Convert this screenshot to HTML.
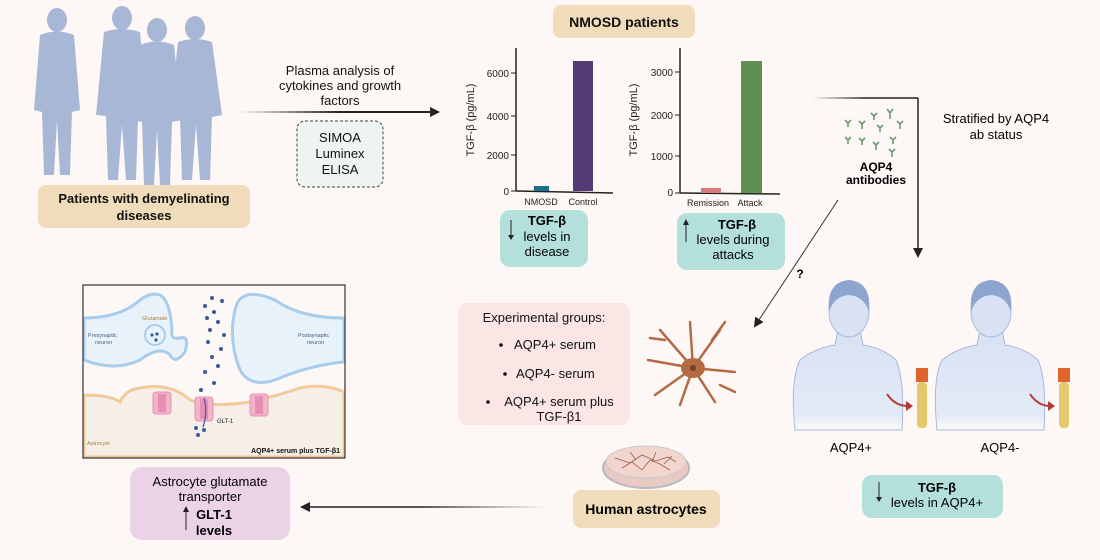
<!DOCTYPE html>
<html><head><meta charset="utf-8"><style>
body{margin:0;background:#fdf8f6;}
svg{display:block;font-family:"Liberation Sans",Arial,sans-serif;}
</style></head><body>
<svg width="1100" height="560" viewBox="0 0 1100 560" xmlns="http://www.w3.org/2000/svg">
<defs>
<marker id="ah" markerWidth="10" markerHeight="10" refX="8" refY="5" orient="auto" markerUnits="userSpaceOnUse"><path d="M0,0 L10,5 L0,10 z" fill="#222"/></marker>
<linearGradient id="g1" gradientUnits="userSpaceOnUse" x1="240" y1="0" x2="440" y2="0"><stop offset="0" stop-color="#222" stop-opacity="0"/><stop offset="0.5" stop-color="#222"/></linearGradient>
<linearGradient id="g2" gradientUnits="userSpaceOnUse" x1="300" y1="0" x2="545" y2="0"><stop offset="0.5" stop-color="#222"/><stop offset="1" stop-color="#222" stop-opacity="0"/></linearGradient>
<linearGradient id="g3" gradientUnits="userSpaceOnUse" x1="812" y1="0" x2="918" y2="0"><stop offset="0" stop-color="#222" stop-opacity="0"/><stop offset="0.5" stop-color="#222"/></linearGradient>
<linearGradient id="body" x1="0" y1="0" x2="0" y2="1"><stop offset="0" stop-color="#d8e2f4"/><stop offset="0.85" stop-color="#e3eaf7"/><stop offset="1" stop-color="#fdf8f6"/></linearGradient>
</defs>
<rect width="1100" height="560" fill="#fdf8f6"/>

<!-- patient silhouettes -->
<g fill="#a9b7d6">
 <ellipse cx="57" cy="20" rx="10" ry="12"/><path d="M40,35 Q57,28 74,35 L80,110 L72,112 L70,175 L60,175 L57,120 L54,175 L44,175 L42,112 L34,110 Z"/>
 <ellipse cx="122" cy="18" rx="10" ry="12"/><path d="M104,32 Q122,26 140,32 L148,115 L138,116 L136,180 L126,180 L122,125 L118,180 L108,180 L106,116 L96,115 Z"/>
 <ellipse cx="157" cy="30" rx="10" ry="12"/><path d="M140,45 Q157,38 174,45 L182,120 L172,122 L170,185 L160,185 L157,130 L154,185 L144,185 L142,122 L132,120 Z"/>
 <ellipse cx="195" cy="28" rx="10" ry="12"/><path d="M178,42 Q195,36 212,42 L222,115 L212,117 L210,180 L200,180 L196,125 L192,180 L182,180 L180,117 L170,115 Z"/>
</g>
<rect x="38" y="185" width="212" height="43" rx="8" fill="#f0dcbb"/>
<text x="144" y="203" font-size="13" font-weight="bold" text-anchor="middle" fill="#111">Patients with demyelinating</text>
<text x="144" y="220" font-size="13" font-weight="bold" text-anchor="middle" fill="#111">diseases</text>

<!-- plasma arrow -->
<line x1="240" y1="112" x2="438" y2="112" stroke="url(#g1)" stroke-width="2" marker-end="url(#ah)"/>
<g font-size="13" text-anchor="middle" fill="#111"><text x="340" y="75">Plasma analysis of</text><text x="340" y="90">cytokines and growth</text><text x="340" y="105">factors</text></g>
<rect x="297" y="121" width="86" height="66" rx="8" fill="#eef5f0" stroke="#444" stroke-dasharray="3,2"/>
<g font-size="13" text-anchor="middle" fill="#111"><text x="340" y="142">SIMOA</text><text x="340" y="158">Luminex</text><text x="340" y="174">ELISA</text></g>

<!-- NMOSD -->
<rect x="553" y="5" width="142" height="33" rx="8" fill="#f0dcbb"/>
<text x="624" y="27" font-size="14" font-weight="bold" text-anchor="middle" fill="#111">NMOSD patients</text>

<!-- chart1 -->
<g font-size="10" fill="#222">
 <line x1="516" y1="48" x2="516" y2="191" stroke="#222" stroke-width="1.5"/>
 <line x1="516" y1="191" x2="613" y2="193" stroke="#222" stroke-width="1.5"/>
 <line x1="511" y1="191" x2="516" y2="191" stroke="#222"/><line x1="511" y1="155" x2="516" y2="155" stroke="#222"/><line x1="511" y1="116" x2="516" y2="116" stroke="#222"/><line x1="511" y1="73" x2="516" y2="73" stroke="#222"/>
 <g text-anchor="end"><text x="509" y="195">0</text><text x="509" y="159">2000</text><text x="509" y="120">4000</text><text x="509" y="77">6000</text></g>
 <text transform="translate(474,120) rotate(-90)" font-size="11" text-anchor="middle">TGF-β (pg/mL)</text>
 <rect x="534" y="186" width="15" height="5" fill="#1a6f8a"/>
 <rect x="573" y="61" width="20" height="130" fill="#553a78"/>
 <text x="541" y="205" text-anchor="middle" font-size="9">NMOSD</text><text x="583" y="205" text-anchor="middle" font-size="9">Control</text>
</g>
<!-- chart2 -->
<g font-size="10" fill="#222">
 <line x1="680" y1="48" x2="680" y2="193" stroke="#222" stroke-width="1.5"/>
 <line x1="680" y1="193" x2="780" y2="194" stroke="#222" stroke-width="1.5"/>
 <line x1="675" y1="193" x2="680" y2="193" stroke="#222"/><line x1="675" y1="156" x2="680" y2="156" stroke="#222"/><line x1="675" y1="115" x2="680" y2="115" stroke="#222"/><line x1="675" y1="72" x2="680" y2="72" stroke="#222"/>
 <g text-anchor="end"><text x="673" y="196">0</text><text x="673" y="160">1000</text><text x="673" y="119">2000</text><text x="673" y="76">3000</text></g>
 <text transform="translate(637,120) rotate(-90)" font-size="11" text-anchor="middle">TGF-β (pg/mL)</text>
 <rect x="701" y="188" width="20" height="5" fill="#d97b7b"/>
 <rect x="741" y="61" width="21" height="132" fill="#5f8f55"/>
 <text x="708" y="206" text-anchor="middle" font-size="9">Remission</text><text x="750" y="206" text-anchor="middle" font-size="9">Attack</text>
</g>

<!-- teal boxes -->
<rect x="500" y="210" width="88" height="57" rx="10" fill="#b4e0dc"/>
<line x1="511" y1="220" x2="511" y2="236" stroke="#222"/><path d="M508,235 L514,235 L511,240z" fill="#222"/>
<text x="547" y="225" font-size="13" font-weight="bold" text-anchor="middle">TGF-β</text>
<text x="547" y="241" font-size="13" text-anchor="middle">levels in</text><text x="547" y="256" font-size="13" text-anchor="middle">disease</text>
<rect x="677" y="213" width="108" height="57" rx="10" fill="#b4e0dc"/>
<line x1="686" y1="223" x2="686" y2="242" stroke="#222"/><path d="M683,225 L689,225 L686,219z" fill="#222"/>
<text x="737" y="229" font-size="13" font-weight="bold" text-anchor="middle">TGF-β</text>
<text x="733" y="244" font-size="13" text-anchor="middle">levels during</text><text x="733" y="259" font-size="13" text-anchor="middle">attacks</text>

<!-- stratified line -->
<line x1="812" y1="98" x2="918" y2="98" stroke="url(#g3)" stroke-width="1.5"/>
<line x1="918" y1="98" x2="918" y2="256" stroke="#222" stroke-width="1.5" marker-end="url(#ah)"/>
<text x="996" y="123" font-size="13" text-anchor="middle">Stratified by AQP4</text>
<text x="996" y="139" font-size="13" text-anchor="middle">ab status</text>
<!-- antibodies -->
<g stroke="#6d9a76" stroke-width="1.6" fill="none">
 <path d="M848,123 l0,4 m0,-4 l-3,-3 m3,3 l3,-3"/><path d="M862,124 l0,5 m0,-5 l-3,-3 m3,3 l3,-3"/>
 <path d="M874,116 l0,4 m0,-4 l-3,-3 m3,3 l3,-3"/><path d="M890,113 l0,6 m0,-6 l-3,-4 m3,4 l3,-4"/>
 <path d="M900,124 l0,5 m0,-5 l-3,-3 m3,3 l3,-3"/><path d="M880,128 l0,4 m0,-4 l-3,-3 m3,3 l3,-3"/>
 <path d="M848,140 l0,4 m0,-4 l-3,-3 m3,3 l3,-3"/><path d="M862,141 l0,4 m0,-4 l-3,-3 m3,3 l3,-3"/>
 <path d="M876,145 l0,5 m0,-5 l-3,-3 m3,3 l3,-3"/><path d="M893,140 l0,4 m0,-4 l-3,-3 m3,3 l3,-3"/>
 <path d="M892,152 l0,5 m0,-5 l-3,-3 m3,3 l3,-3"/>
</g>
<text x="876" y="171" font-size="12" font-weight="bold" text-anchor="middle">AQP4</text>
<text x="876" y="184" font-size="12" font-weight="bold" text-anchor="middle">antibodies</text>
<line x1="838" y1="200" x2="755" y2="326" stroke="#333" stroke-width="1" marker-end="url(#ah)"/>
<text x="800" y="278" font-size="12" font-weight="bold" text-anchor="middle">?</text>

<!-- patients -->
<g>
 <path d="M795,430 Q790,380 800,360 Q815,348 835,345 L838,330 L860,330 L863,345 Q883,348 896,360 Q905,380 902,430 Z" fill="url(#body)" stroke="#a9b9dc"/>
 <ellipse cx="849" cy="312" rx="20" ry="25" fill="#d8e2f4" stroke="#a9b9dc"/>
 <path d="M829,312 Q826,282 849,280 Q872,282 869,312 Q864,296 849,295 Q834,296 829,312 Z" fill="#8ea5cf"/>
 <path d="M937,430 Q932,380 942,360 Q957,348 977,345 L980,330 L1002,330 L1005,345 Q1025,348 1038,360 Q1047,380 1044,430 Z" fill="url(#body)" stroke="#a9b9dc"/>
 <ellipse cx="991" cy="312" rx="20" ry="25" fill="#d8e2f4" stroke="#a9b9dc"/>
 <path d="M971,312 Q968,282 991,280 Q1014,282 1011,312 Q1006,296 991,295 Q976,296 971,312 Z" fill="#8ea5cf"/>
 <rect x="916" y="368" width="12" height="14" fill="#e0642d"/>
 <rect x="917" y="382" width="10" height="46" rx="4" fill="#e5c86a"/>
 <rect x="1058" y="368" width="12" height="14" fill="#e0642d"/>
 <rect x="1059" y="382" width="10" height="46" rx="4" fill="#e5c86a"/>
 <path d="M887,394 Q895,406 908,406" stroke="#b43a35" stroke-width="2" fill="none"/><path d="M906,401 L913,406 L906,411z" fill="#b43a35"/>
 <path d="M1030,394 Q1038,406 1050,406" stroke="#b43a35" stroke-width="2" fill="none"/><path d="M1048,401 L1055,406 L1048,411z" fill="#b43a35"/>
</g>
<text x="851" y="452" font-size="13" text-anchor="middle">AQP4+</text>
<text x="1000" y="452" font-size="13" text-anchor="middle">AQP4-</text>
<rect x="862" y="475" width="141" height="43" rx="10" fill="#b4e0dc"/>
<line x1="879" y1="482" x2="879" y2="498" stroke="#222"/><path d="M876,497 L882,497 L879,502z" fill="#222"/>
<text x="937" y="492" font-size="13" font-weight="bold" text-anchor="middle">TGF-β</text>
<text x="937" y="507" font-size="13" text-anchor="middle">levels in AQP4+</text>

<!-- experimental -->
<rect x="458" y="303" width="172" height="122" rx="10" fill="#fbe5e5"/>
<g font-size="13" fill="#111">
 <text x="544" y="322" text-anchor="middle">Experimental groups:</text>
 <circle cx="501" cy="345" r="1.8"/><text x="514" y="349">AQP4+ serum</text>
 <circle cx="505" cy="374" r="1.8"/><text x="516" y="378">AQP4- serum</text>
 <circle cx="488" cy="402" r="1.8"/><text x="559" y="406" text-anchor="middle">AQP4+ serum plus</text>
 <text x="559" y="421" text-anchor="middle">TGF-β1</text>
</g>
<!-- astrocyte -->
<g stroke="#b36b45" stroke-width="2.5" fill="none" stroke-linecap="round">
 <path d="M693,368 L660,330 M693,368 L648,360 M693,368 L655,395 M693,368 L690,322 M693,368 L720,330 M693,368 L735,372 M693,368 L715,402 M693,368 L680,405 M665,340 L650,338 M712,340 L725,322 M720,385 L735,392"/>
</g>
<ellipse cx="693" cy="368" rx="12" ry="10" fill="#b36b45"/><circle cx="693" cy="368" r="3" fill="#7a3f25"/>

<!-- petri & human astrocytes -->
<ellipse cx="646" cy="468" rx="43" ry="20" fill="#e8c9c4" stroke="#b8b8c0" stroke-width="2"/>
<ellipse cx="646" cy="462" rx="40" ry="16" fill="#f3d5cf" stroke="#c9c9d0"/>
<g stroke="#9b5e44" stroke-width="0.8" fill="none"><path d="M615,458 l15,5 l12,-8 l14,6 l12,-4 l8,5 M622,468 l10,-6 l10,8 l8,-10 l10,4 l10,6 M630,452 l6,8 m20,-8 l-4,10 m20,-6 l-8,8"/></g>
<rect x="573" y="490" width="147" height="38" rx="8" fill="#f0dcbb"/>
<text x="646" y="514" font-size="14" font-weight="bold" text-anchor="middle">Human astrocytes</text>
<line x1="545" y1="507" x2="302" y2="507" stroke="url(#g2)" stroke-width="1.5" marker-end="url(#ah)"/>

<rect x="130" y="467" width="160" height="73" rx="12" fill="#ecd2e6"/>
<text x="210" y="486" font-size="13" text-anchor="middle">Astrocyte glutamate</text>
<text x="210" y="501" font-size="13" text-anchor="middle">transporter</text>
<line x1="186" y1="510" x2="186" y2="530" stroke="#222"/><path d="M183,512 L189,512 L186,506z" fill="#222"/>
<text x="214" y="519" font-size="13" font-weight="bold" text-anchor="middle">GLT-1</text>
<text x="214" y="535" font-size="13" font-weight="bold" text-anchor="middle">levels</text>

<!-- synapse panel -->
<rect x="83" y="285" width="262" height="173" fill="#fcf8f6"/>
<path d="M84,395 Q110,395 120,402 Q125,390 140,388 Q170,382 190,400 Q210,408 250,402 Q280,395 300,388 Q325,383 344,392 L344,457 L84,457 Z" fill="#f6efe8" stroke="#f3c99a" stroke-width="3"/>
<path d="M84,318 Q120,318 140,300 Q150,292 160,295 Q170,300 172,330 Q170,340 180,338 Q190,335 185,352 Q175,365 170,355 Q160,345 140,360 Q115,372 84,360 Z" fill="#e8f2fb" stroke="#a9ccec" stroke-width="3"/>
<path d="M344,318 Q300,318 275,300 Q240,285 235,310 Q228,340 240,370 Q250,388 275,380 Q310,365 344,362 Z" fill="#e8f2fb" stroke="#a9ccec" stroke-width="3"/>
<rect x="83" y="285" width="262" height="173" fill="none" stroke="#333" stroke-width="1.2"/>
<circle cx="155" cy="335" r="10" fill="#e8f2fb" stroke="#a9ccec" stroke-width="2"/>
<g fill="#3c5a9a"><circle cx="152" cy="335" r="1.6"/><circle cx="157" cy="334" r="1.6"/><circle cx="156" cy="340" r="1.6"/>
<circle cx="212" cy="298" r="2"/><circle cx="222" cy="301" r="2"/><circle cx="205" cy="306" r="2"/><circle cx="214" cy="312" r="2"/><circle cx="207" cy="318" r="2"/><circle cx="218" cy="322" r="2"/><circle cx="210" cy="330" r="2"/><circle cx="224" cy="335" r="2"/><circle cx="208" cy="342" r="2"/><circle cx="221" cy="349" r="2"/><circle cx="212" cy="357" r="2"/><circle cx="218" cy="366" r="2"/><circle cx="205" cy="372" r="2"/><circle cx="214" cy="383" r="2"/><circle cx="201" cy="390" r="2"/><circle cx="196" cy="428" r="2"/><circle cx="204" cy="430" r="2"/><circle cx="198" cy="435" r="2"/></g>
<g fill="#f2b3cb" stroke="#e58fb2"><rect x="153" y="392" width="18" height="22" rx="3"/><rect x="195" y="397" width="18" height="24" rx="3"/><rect x="250" y="394" width="18" height="22" rx="3"/></g>
<g fill="#e58fb2"><rect x="158" y="394" width="8" height="18"/><rect x="200" y="399" width="8" height="20"/><rect x="255" y="396" width="8" height="18"/></g>
<path d="M204,398 Q208,412 203,427" stroke="#3c5a9a" stroke-width="1.2" fill="none"/>
<g font-size="5.5" fill="#4a5a7a"><text x="88" y="337">Presynaptic</text><text x="95" y="344">neuron</text><text x="298" y="337">Postsynaptic</text><text x="307" y="344">neuron</text></g>
<text x="142" y="320" font-size="5.5" fill="#b07b3a">Glutamate</text>
<text x="87" y="445" font-size="5.5" fill="#b07b3a">Astrocyte</text>
<text x="217" y="423" font-size="6" fill="#222">GLT-1</text>
<text x="340" y="453" font-size="7" font-weight="bold" text-anchor="end" fill="#111">AQP4+ serum plus TGF-β1</text>
</svg>
</body></html>
